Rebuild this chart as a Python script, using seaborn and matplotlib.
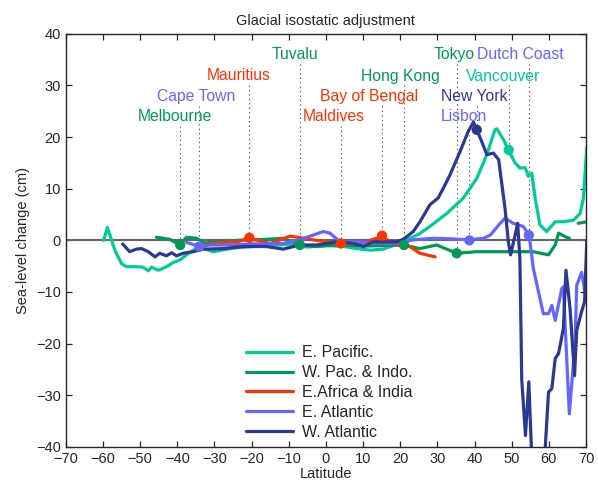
import numpy as np
import pandas as pd
import matplotlib
matplotlib.use("Agg")
import matplotlib.pyplot as plt
import seaborn as sns

# Sea-level change curves by region (lat in deg, change in cm)
epac_lat = [-59.8, -58.8, -56.8, -55.0, -53.7, -51.0, -49.2, -47.8, -46.9, -45.1, -42.9, -41.1,
            -39.3, -37.5, -35.7, -33.9, -30.3, -25.0, -20.0, -15.0, -10.0, -5.0, 0.0, 5.0, 8.3,
            12.0, 15.4, 19.0, 22.6, 25.0, 28.0, 32.5, 37.0, 40.6, 43.3, 45.5, 46.0, 47.8, 49.1,
            50.9, 52.2, 53.6, 54.5, 55.4, 56.3, 57.6, 59.4, 61.7, 63.9, 66.6, 68.4, 69.3, 70.2]
epac_val = [0.0, 2.5, -1.9, -4.5, -5.1, -5.1, -5.2, -5.9, -5.2, -5.8, -5.1, -4.3,
            -3.8, -2.8, -1.9, -1.4, -2.2, -1.5, -1.2, -1.0, -0.8, -1.3, -1.0, -1.2, -1.6,
            -1.9, -1.7, -0.8, 0.4, 1.2, 2.7, 5.2, 8.2, 12.0, 16.6, 21.4, 21.6, 19.5, 17.5,
            15.0, 14.0, 14.1, 12.4, 13.0, 8.2, 3.0, 1.7, 3.6, 3.6, 3.9, 5.2, 8.2, 17.9]

wpac_lat = [-45.6, -42.0, -39.3, -37.5, -34.8, -32.6, -28.0, -24.0, -20.5, -16.0, -11.5, -7.0,
            -2.5, 2.9, 7.0, 11.0, 16.0, 20.8, 25.3, 29.8, 35.2, 40.6, 44.2, 49.5, 55.8, 59.9,
            61.7, 62.6, 64.4, 65.5]
wpac_val = [0.6, 0.2, -0.9, 0.6, 0.4, -0.5, -0.2, 0.0, 0.1, 0.2, 0.4, -0.9,
            -1.2, -0.9, -1.0, -1.1, -1.0, -0.9, -1.6, -0.9, -2.5, -2.2, -2.2, -2.2, -2.2, -2.8,
            -0.9, 1.4, 0.7, 0.4]
wpac2_lat = [67.9, 70.2]
wpac2_val = [3.3, 3.6]

eafr_lat = [-33.0, -27.7, -24.0, -20.5, -15.0, -9.7, -7.5, -3.4, 3.8, 9.2, 15.0, 19.0, 22.6, 25.3, 29.4]
eafr_val = [-0.9, -0.4, -0.3, 0.4, -0.6, 0.8, 0.6, 0.1, -0.7, -0.6, 0.7, -0.9, -1.2, -2.5, -3.2]

eatl_lat = [-37.5, -33.9, -31.2, -25.8, -20.5, -11.5, -7.0, -4.3, -0.7, 1.1, 3.8, 8.3, 13.6, 19.0,
            23.5, 28.9, 33.4, 38.3, 42.4, 44.2, 46.9, 48.2, 50.4, 53.1, 54.7, 55.8, 58.5, 59.9,
            60.8, 61.7, 63.5, 63.9, 65.5, 67.0, 67.5, 68.8, 70.2]
eatl_val = [-0.4, -1.2, -0.9, -0.9, -0.7, -0.6, 0.1, 0.8, 1.7, 1.4, -0.3, -0.3, -0.6, -0.6,
            0.1, 0.4, 0.3, 0.1, 0.4, 1.0, 3.3, 4.3, 3.3, 2.7, 1.0, -5.4, -14.2, -14.2,
            -12.6, -15.5, -9.3, -9.0, -33.6, -20.3, -8.7, -6.2, -11.9]

watl_lat = [-54.7, -52.8, -51.0, -49.6, -47.8, -46.0, -44.7, -42.9, -41.5, -40.2, -38.4, -35.7,
            -33.0, -27.6, -22.3, -20.5, -16.0, -11.5, -7.0, -2.5, 2.9, 7.4, 10.1, 12.7, 19.0,
            20.8, 23.5, 25.3, 28.0, 30.2, 31.6, 33.4, 36.1, 38.3, 39.7, 40.6, 41.9, 43.3, 45.1,
            46.5, 46.9, 48.2, 49.1, 49.7, 50.9, 51.6, 52.2, 52.7, 53.7, 54.6, 55.3, 57.0, 59.0,
            59.9, 60.8, 61.7, 62.6, 63.9, 64.6, 65.7, 66.9, 67.5, 68.8, 69.6, 70.2]
watl_val = [-0.7, -2.2, -1.7, -1.6, -2.2, -3.2, -2.5, -3.0, -2.4, -3.0, -2.5, -2.2,
            -1.7, -1.6, -1.2, -1.2, -1.2, -1.7, -0.9, -0.9, -0.3, -0.6, -1.2, -0.3, -0.3,
            0.2, 1.7, 3.6, 6.9, 8.2, 10.1, 12.7, 17.2, 21.1, 22.9, 21.4, 19.2, 16.6, 16.9,
            15.6, 13.3, 6.2, -0.3, -2.8, 1.0, 3.3, -3.5, -27.0, -37.8, -27.4, -40.4, -46.0, -40.4,
            -29.4, -28.7, -22.9, -21.9, -17.1, -5.8, -13.2, -26.2, -17.4, -13.8, -11.9, 0.0]

regions = ['E. Pacific.', 'W. Pac. & Indo.', 'E.Africa & India', 'E. Atlantic', 'W. Atlantic']
colors = ['#00CC99', '#009955', '#FF3300', '#6666FF', '#2B3990']

# tide-gauge sites
site_names = ['Melbourne', 'Cape Town', 'Mauritius', 'Tuvalu', 'Maldives', 'Bay of Bengal',
              'Hong Kong', 'Tokyo', 'Lisbon', 'New York', 'Vancouver', 'Dutch Coast']
site_region = [1, 3, 2, 1, 2, 2, 1, 1, 3, 4, 0, 3]
site_lat = [-39.2, -34.1, -20.6, -7.0, 4.0, 15.1, 21.0, 35.2, 38.6, 40.6, 49.2, 54.6]
site_val = [-0.9, -1.2, 0.5, -0.9, -0.6, 0.9, -0.9, -2.5, 0.0, 21.4, 17.5, 1.0]
label_x = [-40.7, -34.8, -23.5, -8.3, 2.1, 11.6, 20.1, 34.6, 37.2, 39.8, 47.7, 52.2]
label_y = [23.9, 27.9, 31.9, 36.0, 23.9, 27.9, 31.8, 36.0, 23.9, 27.9, 31.8, 36.0]

sns.set_style('ticks')
plt.rcParams['font.family'] = ['Liberation Sans', 'DejaVu Sans']

# long table, one unit per connected segment
parts = [
    (epac_lat, epac_val, 0, 'a'),
    (wpac_lat, wpac_val, 1, 'b'),
    (wpac2_lat, wpac2_val, 1, 'b2'),
    (eafr_lat, eafr_val, 2, 'c'),
    (eatl_lat, eatl_val, 3, 'd'),
    (watl_lat, watl_val, 4, 'e'),
]
frames = []
for lat, val, r, seg in parts:
    frames.append(pd.DataFrame({'lat': lat, 'val': val, 'region': regions[r], 'seg': seg}))
df = pd.concat(frames, ignore_index=True)

sites = pd.DataFrame({'lat': site_lat, 'val': site_val,
                      'region': [regions[i] for i in site_region]})

fig = plt.figure(figsize=(5.98, 4.9), dpi=100)
ax = fig.add_axes([0.110, 0.088, 0.870, 0.843])

ax.axhline(0, color='0.4', lw=1.5, zorder=1.5)

# dotted leaders from each label down to its site
for i in range(len(site_names)):
    ax.plot([site_lat[i], site_lat[i]], [label_y[i] - 1.8, site_val[i]],
            ls=(0, (1, 3)), color='0.25', lw=0.8, zorder=1.6)

sns.lineplot(data=df, x='lat', y='val', hue='region', hue_order=regions,
             palette=colors, units='seg', estimator=None, sort=False,
             lw=2.3, ax=ax, zorder=2)

sns.scatterplot(data=sites, x='lat', y='val', hue='region', hue_order=regions,
                palette=colors, s=55, edgecolor='none', legend=False, ax=ax, zorder=3)

for i, name in enumerate(site_names):
    ax.text(label_x[i], label_y[i], name, color=colors[site_region[i]],
            ha='center', va='center', fontsize=11.3)

ax.set_xlim(-70, 70)
ax.set_ylim(-40, 40)
ax.set_xticks(range(-70, 71, 10))
ax.set_yticks(range(-40, 41, 10))
ax.tick_params(direction='in', top=True, right=True, length=4.5, width=0.9, labelsize=10.5)
for s in ax.spines.values():
    s.set_linewidth(1.0)

ax.set_title('Glacial isostatic adjustment', fontsize=10.5)
ax.set_xlabel('Latitude', fontsize=10.5, labelpad=1)
ax.set_ylabel('Sea-level change (cm)', fontsize=10.5)

handles, labels = ax.get_legend_handles_labels()
ax.legend(handles, labels, loc='lower left', bbox_to_anchor=(0.335, 0.002),
          frameon=False, fontsize=11.5, handlelength=2.9, labelspacing=0.3,
          handletextpad=0.6, borderaxespad=0)

fig.savefig('out.png', dpi=100)
